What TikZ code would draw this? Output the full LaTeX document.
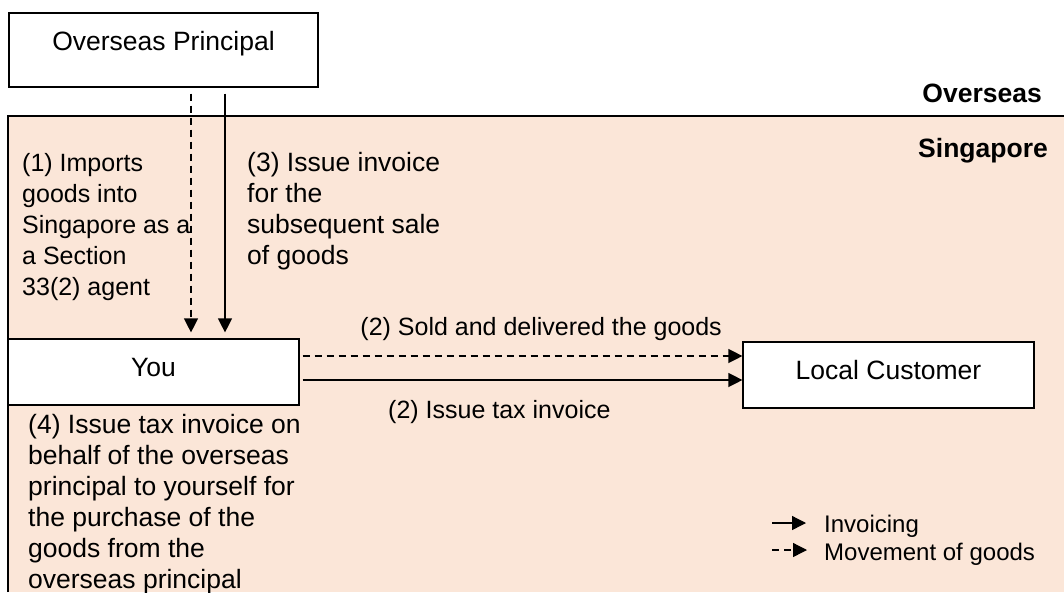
\documentclass[tikz,border=0pt]{standalone}
\usepackage{fontspec}
\setmainfont{Liberation Sans}
\usetikzlibrary{arrows.meta,calc}
\definecolor{sgfill}{RGB}{251,230,216}
\begin{document}
\begin{tikzpicture}[x=1pt,y=-1pt,
  every node/.style={font=\fontsize{26.5}{31}\selectfont},
  box/.style={draw,line width=1.2pt,fill=white,inner sep=0pt},
  txt/.style={inner sep=0pt,align=left,anchor=base west},
  small/.style={font=\fontsize{25}{31}\selectfont},
  legendtxt/.style={inner sep=0pt,anchor=base west,font=\fontsize{24}{28}\selectfont},
  conn/.style={line width=1.3pt,-{Triangle[length=14pt,width=14pt]}},
  dconn/.style={conn,dash pattern=on 7pt off 5pt}]
\useasboundingbox (0,0) rectangle (1064,592);
% Singapore region
\fill[sgfill] (8,116) rectangle (1064,592);
\draw[line width=1.2pt] (8,592) -- (8,116) -- (1064,116);
% boxes
\node[box,minimum width=309pt,minimum height=74pt,text height=18pt,text depth=18pt] (op) at (163.5,50) {Overseas Principal};
\node[box,minimum width=291pt,minimum height=66pt,text height=18pt,text depth=9.5pt] (you) at (153.5,372) {You};
\node[box,minimum width=291pt,minimum height=66pt,text height=18pt,text depth=9.5pt] (lc) at (888.5,375) {Local Customer};
% region labels
\node[inner sep=0pt,anchor=base east,font=\fontsize{26.5}{31}\selectfont\bfseries] (ovs) at (1042,102) {Overseas};
\node[inner sep=0pt,anchor=base east,font=\fontsize{26.5}{31}\selectfont\bfseries] (sgp) at (1048,157) {Singapore};
% connectors
\coordinate (dx) at (191,0);
\coordinate (sx) at (225,0);
\coordinate (dy) at (0,356);
\coordinate (sy) at (0,380);
\draw[dconn,shorten <=6pt,shorten >=6pt] (op.south -| dx) -- (you.north -| dx);
\draw[conn,shorten <=6pt,shorten >=6pt] (op.south -| sx) -- (you.north -| sx);
\draw[dconn,shorten <=3pt] (you.east |- dy) -- (lc.west |- dy);
\draw[conn,shorten <=3pt] (you.east |- sy) -- (lc.west |- sy);
% labels (base anchor = last line)
\node[txt,small] (t1) at (22,295) {(1) Imports\\goods into\\Singapore as a\\a Section\\33(2) agent};
\node[txt] (t3) at (247,264) {(3) Issue invoice\\for the\\subsequent sale\\of goods};
\node[inner sep=0pt,anchor=base east,font=\fontsize{25}{31}\selectfont] (t2a) at (722,335) {(2) Sold and delivered the goods};
\node[inner sep=0pt,anchor=base west,font=\fontsize{25}{31}\selectfont] (t2b) at (388,418) {(2) Issue tax invoice};
\node[txt] (t4) at (28,588) {(4) Issue tax invoice on\\behalf of the overseas\\principal to yourself for\\the purchase of the\\goods from the\\overseas principal};
% legend
\node[legendtxt] (linv) at (824,532) {Invoicing};
\node[legendtxt] (lmov) at (824,560) {Movement of goods};
\coordinate (ls1) at (772,523);
\coordinate (ls2) at (772,550);
\draw[conn,shorten >=18pt] (ls1) -- (ls1 -| linv.west);
\draw[dconn,shorten >=17pt] (ls2) -- (ls2 -| lmov.west);
\end{tikzpicture}
\end{document}
